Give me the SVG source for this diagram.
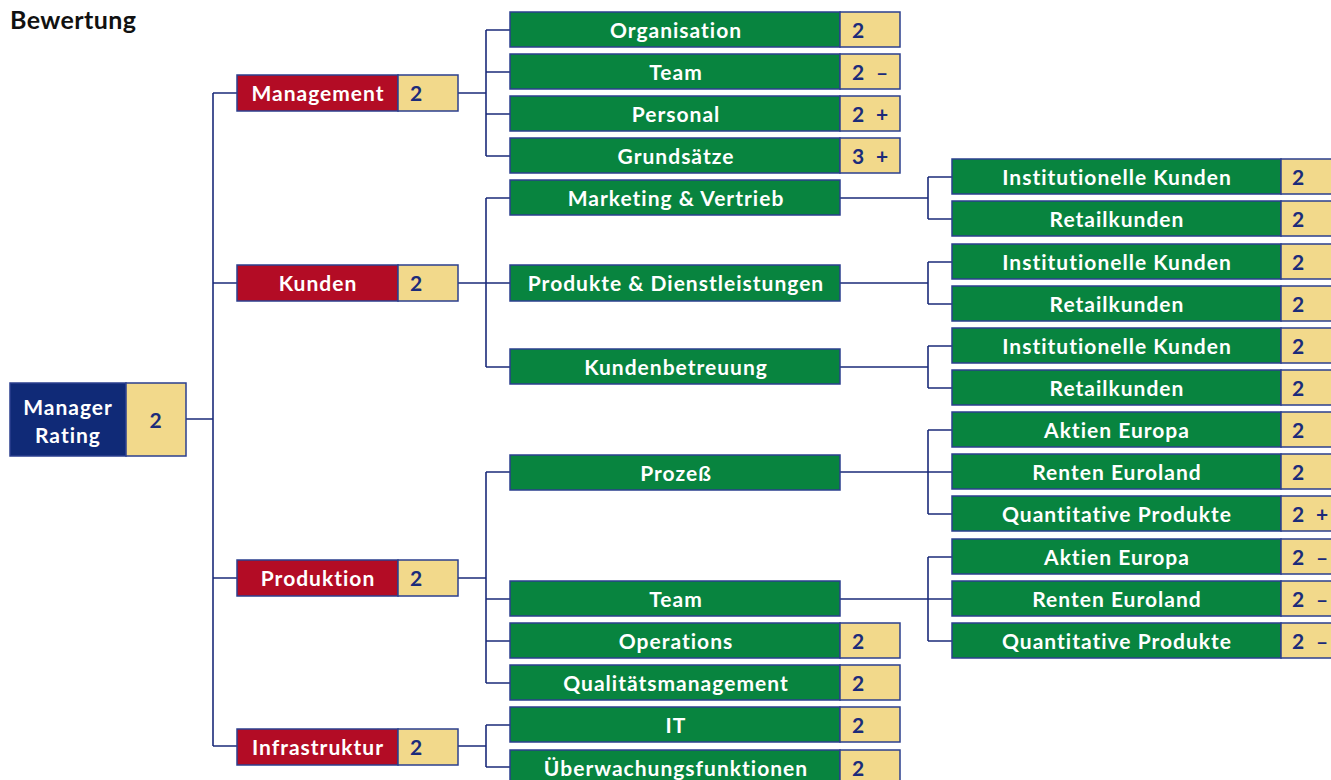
<svg xmlns="http://www.w3.org/2000/svg" width="1331" height="780" viewBox="0 0 1331 780">
<style>
text{font-family:Lato,"DejaVu Sans",sans-serif;font-weight:bold;font-size:21px;letter-spacing:1px}
.g{fill:#08843f;stroke:#2b3f8f;stroke-width:1.5}
.r{fill:#b30c25;stroke:#2b3f8f;stroke-width:1.5}
.b{fill:#102a77;stroke:#2b3f8f;stroke-width:1.5}
.y{fill:#f2d98b;stroke:#2b3f8f;stroke-width:1.5}
.w{fill:#ffffff;text-anchor:middle}
.s{fill:#1b2b7a}
.c{fill:none;stroke:#1b2b7a;stroke-width:1.6}
</style>
<text x="10" y="29" fill="#111" style="font-size:25px;letter-spacing:0.4px">Bewertung</text>
<g id="connectors">
<path class="c" d="M186 419H213M213 93V746M213 93H237M213 283H237M213 578H237M213 746H237"/>
<path class="c" d="M458 93H486M486 30V156M486 30H510M486 72H510M486 114H510M486 156H510"/>
<path class="c" d="M458 283H510M486 198V367M486 198H510M486 367H510"/>
<path class="c" d="M458 578H486M486 472V683M486 472H510M486 599H510M486 641H510M486 683H510"/>
<path class="c" d="M458 746H486M486 725V767M486 725H510M486 767H510"/>
<path class="c" d="M840 198H928M928 177V219M928 177H952M928 219H952"/>
<path class="c" d="M840 283H928M928 262V304M928 262H952M928 304H952"/>
<path class="c" d="M840 367H928M928 346V388M928 346H952M928 388H952"/>
<path class="c" d="M840 472H952M928 430V514M928 430H952M928 514H952"/>
<path class="c" d="M840 599H952M928 557V641M928 557H952M928 641H952"/>
</g>
<g id="root"><rect class="b" x="10" y="383" width="116" height="73"/><rect class="y" x="126" y="383" width="60" height="73"/>
<text class="w" x="68" y="415">Manager</text><text class="w" x="68" y="443">Rating</text><text class="s" x="156" y="428" text-anchor="middle">2</text></g>
<g id="management"><rect class="r" x="237" y="75" width="161" height="36"/><rect class="y" x="398" y="75" width="60" height="36"/><text class="w" x="318" y="101">Management</text><text class="s" x="410" y="101">2</text></g>
<g id="kunden"><rect class="r" x="237" y="265" width="161" height="36"/><rect class="y" x="398" y="265" width="60" height="36"/><text class="w" x="318" y="291">Kunden</text><text class="s" x="410" y="291">2</text></g>
<g id="produktion"><rect class="r" x="237" y="560" width="161" height="36"/><rect class="y" x="398" y="560" width="60" height="36"/><text class="w" x="318" y="586">Produktion</text><text class="s" x="410" y="586">2</text></g>
<g id="infrastruktur"><rect class="r" x="237" y="729" width="161" height="36"/><rect class="y" x="398" y="729" width="60" height="36"/><text class="w" x="318" y="755">Infrastruktur</text><text class="s" x="410" y="755">2</text></g>

<g id="organisation"><rect class="g" x="510" y="12" width="330" height="35"/><rect class="y" x="840" y="12" width="60" height="35"/><text class="w" x="676" y="38">Organisation</text><text class="s" x="852" y="38">2</text></g>
<g id="team1"><rect class="g" x="510" y="54" width="330" height="35"/><rect class="y" x="840" y="54" width="60" height="35"/><text class="w" x="676" y="80">Team</text><text class="s" x="852" y="80">2</text><text class="s" x="876" y="80">–</text></g>
<g id="personal"><rect class="g" x="510" y="96" width="330" height="35"/><rect class="y" x="840" y="96" width="60" height="35"/><text class="w" x="676" y="122">Personal</text><text class="s" x="852" y="122">2</text><text class="s" x="876" y="122">+</text></g>
<g id="grundsaetze"><rect class="g" x="510" y="138" width="330" height="35"/><rect class="y" x="840" y="138" width="60" height="35"/><text class="w" x="676" y="164">Grundsätze</text><text class="s" x="852" y="164">3</text><text class="s" x="876" y="164">+</text></g>
<g id="marketing"><rect class="g" x="510" y="180" width="330" height="35"/><text class="w" x="676" y="206">Marketing &amp; Vertrieb</text></g>
<g id="produkte"><rect class="g" x="510" y="265" width="330" height="36"/><text class="w" x="676" y="291">Produkte &amp; Dienstleistungen</text></g>
<g id="kundenbetreuung"><rect class="g" x="510" y="349" width="330" height="35"/><text class="w" x="676" y="375">Kundenbetreuung</text></g>
<g id="prozess"><rect class="g" x="510" y="455" width="330" height="35"/><text class="w" x="676" y="481">Prozeß</text></g>
<g id="team2"><rect class="g" x="510" y="581" width="330" height="35"/><text class="w" x="676" y="607">Team</text></g>
<g id="operations"><rect class="g" x="510" y="623" width="330" height="35"/><rect class="y" x="840" y="623" width="60" height="35"/><text class="w" x="676" y="649">Operations</text><text class="s" x="852" y="649">2</text></g>
<g id="qualitaet"><rect class="g" x="510" y="665" width="330" height="35"/><rect class="y" x="840" y="665" width="60" height="35"/><text class="w" x="676" y="691">Qualitätsmanagement</text><text class="s" x="852" y="691">2</text></g>
<g id="it"><rect class="g" x="510" y="707" width="330" height="35"/><rect class="y" x="840" y="707" width="60" height="35"/><text class="w" x="676" y="733">IT</text><text class="s" x="852" y="733">2</text></g>
<g id="ueberwachung"><rect class="g" x="510" y="750" width="330" height="35"/><rect class="y" x="840" y="750" width="60" height="35"/><text class="w" x="676" y="776">Überwachungsfunktionen</text><text class="s" x="852" y="776">2</text></g>

<g id="mv-inst"><rect class="g" x="952" y="159" width="329" height="35"/><rect class="y" x="1281" y="159" width="60" height="35"/><text class="w" x="1117" y="185">Institutionelle Kunden</text><text class="s" x="1292" y="185">2</text></g>
<g id="mv-retail"><rect class="g" x="952" y="201" width="329" height="35"/><rect class="y" x="1281" y="201" width="60" height="35"/><text class="w" x="1117" y="227">Retailkunden</text><text class="s" x="1292" y="227">2</text></g>
<g id="pd-inst"><rect class="g" x="952" y="244" width="329" height="35"/><rect class="y" x="1281" y="244" width="60" height="35"/><text class="w" x="1117" y="270">Institutionelle Kunden</text><text class="s" x="1292" y="270">2</text></g>
<g id="pd-retail"><rect class="g" x="952" y="286" width="329" height="35"/><rect class="y" x="1281" y="286" width="60" height="35"/><text class="w" x="1117" y="312">Retailkunden</text><text class="s" x="1292" y="312">2</text></g>
<g id="kb-inst"><rect class="g" x="952" y="328" width="329" height="35"/><rect class="y" x="1281" y="328" width="60" height="35"/><text class="w" x="1117" y="354">Institutionelle Kunden</text><text class="s" x="1292" y="354">2</text></g>
<g id="kb-retail"><rect class="g" x="952" y="370" width="329" height="35"/><rect class="y" x="1281" y="370" width="60" height="35"/><text class="w" x="1117" y="396">Retailkunden</text><text class="s" x="1292" y="396">2</text></g>
<g id="pr-aktien"><rect class="g" x="952" y="412" width="329" height="35"/><rect class="y" x="1281" y="412" width="60" height="35"/><text class="w" x="1117" y="438">Aktien Europa</text><text class="s" x="1292" y="438">2</text></g>
<g id="pr-renten"><rect class="g" x="952" y="454" width="329" height="35"/><rect class="y" x="1281" y="454" width="60" height="35"/><text class="w" x="1117" y="480">Renten Euroland</text><text class="s" x="1292" y="480">2</text></g>
<g id="pr-quant"><rect class="g" x="952" y="496" width="329" height="35"/><rect class="y" x="1281" y="496" width="60" height="35"/><text class="w" x="1117" y="522">Quantitative Produkte</text><text class="s" x="1292" y="522">2</text><text class="s" x="1316" y="522">+</text></g>
<g id="tm-aktien"><rect class="g" x="952" y="539" width="329" height="35"/><rect class="y" x="1281" y="539" width="60" height="35"/><text class="w" x="1117" y="565">Aktien Europa</text><text class="s" x="1292" y="565">2</text><text class="s" x="1316" y="565">–</text></g>
<g id="tm-renten"><rect class="g" x="952" y="581" width="329" height="35"/><rect class="y" x="1281" y="581" width="60" height="35"/><text class="w" x="1117" y="607">Renten Euroland</text><text class="s" x="1292" y="607">2</text><text class="s" x="1316" y="607">–</text></g>
<g id="tm-quant"><rect class="g" x="952" y="623" width="329" height="35"/><rect class="y" x="1281" y="623" width="60" height="35"/><text class="w" x="1117" y="649">Quantitative Produkte</text><text class="s" x="1292" y="649">2</text><text class="s" x="1316" y="649">–</text></g>
</svg>
